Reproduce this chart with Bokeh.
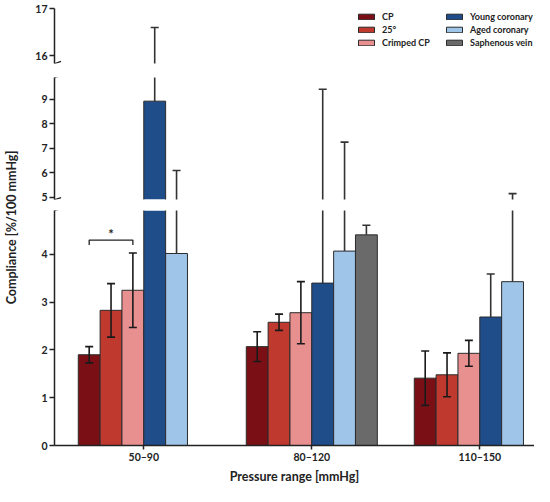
import numpy as np
from bokeh.plotting import figure
from bokeh.models import (ColumnDataSource, Range1d, FixedTicker, Legend, LegendItem, Arrow,
                          CDSView, BooleanFilter)
from bokeh.layouts import row, column
from bokeh.transform import dodge
from bokeh.core.properties import value
from bokeh.embed import file_html
from bokeh.resources import INLINE

nan = float("nan")

# ---------------- data ----------------
categories = ["50–90", "80–120", "110–150"]
series_names = ["CP", "25°", "Crimped CP", "Young coronary", "Aged coronary", "Saphenous vein"]
series_colors = ["#7a1016", "#c0392f", "#e89090", "#1e4d8a", "#9fc5e8", "#6a6a6a"]

cp_mean = [1.90, 2.07, 1.41]
cp_sd = [0.17, 0.31, 0.57]
deg25_mean = [2.83, 2.58, 1.48]
deg25_sd = [0.56, 0.17, 0.46]
crimped_mean = [3.25, 2.78, 1.93]
crimped_sd = [0.78, 0.65, 0.27]
young_mean = [8.93, 3.40, 2.69]
young_sd = [7.67, 6.02, 0.90]
aged_mean = [4.02, 4.07, 3.43]
aged_sd = [2.07, 3.18, 1.71]
saph_mean = [nan, 4.41, nan]
saph_sd = [nan, 0.20, nan]

means = [cp_mean, deg25_mean, crimped_mean, young_mean, aged_mean, saph_mean]
sds = [cp_sd, deg25_sd, crimped_sd, young_sd, aged_sd, saph_sd]
two_sided = [True, True, True, False, False, False]

top_ticks = [16, 17]
mid_ticks = [5, 6, 7, 8, 9]
low_ticks = [0, 1, 2, 3, 4]

x_label = "Pressure range [mmHg]"
y_label = "Compliance [%/100 mmHg]"

# ---------------- styling ----------------
FONT = "Lato"
INK = "#222222"
EDGE = "#2b2b2b"
BAR_W = 0.13
offsets = [(i - 2.5) * BAR_W for i in range(6)]
xpos = list(range(1, len(categories) + 1))

x_range = Range1d(0.4685, 3.3256)

sources = []
for i in range(6):
    m = np.array(means[i], dtype=float)
    s = np.array(sds[i], dtype=float)
    lower = m - s if two_sided[i] else m
    sources.append(ColumnDataSource(dict(x=xpos, mean=m, upper=m + s, lower=lower)))


def style_axis(ax):
    ax.minor_tick_line_color = None
    ax.major_tick_in = 0
    ax.major_tick_out = 5
    ax.major_tick_line_width = 1.5
    ax.axis_line_width = 1.5
    ax.axis_line_color = INK
    ax.major_tick_line_color = INK
    ax.major_label_text_font = FONT
    ax.major_label_text_font_style = "bold"
    ax.major_label_text_font_size = "10.5px"
    ax.major_label_text_color = INK


def view_of(mask):
    return CDSView(filter=BooleanFilter(booleans=[bool(b) for b in mask]))


def make_fig(h, y0, y1, ticks, bt, bb, xaxis):
    p = figure(width=514, height=h, x_range=x_range, y_range=Range1d(y0, y1),
               output_backend="svg", toolbar_location=None, title=None,
               x_axis_location="below" if xaxis else None,
               min_border_left=34, min_border_right=0,
               min_border_top=bt, min_border_bottom=bb)
    p.grid.visible = False
    p.outline_line_color = None
    ax = p.yaxis[0]
    ax.ticker = FixedTicker(ticks=ticks)
    style_axis(ax)
    ax.major_label_standoff = 2
    if xaxis:
        xa = p.xaxis[0]
        xa.ticker = FixedTicker(ticks=xpos)
        xa.major_label_overrides = {x: c for x, c in zip(xpos, categories)}
        style_axis(xa)
        xa.major_tick_out = 4
        xa.major_label_standoff = 1
        xa.axis_label = x_label
        xa.axis_label_text_font = FONT
        xa.axis_label_text_font_style = "bold"
        xa.axis_label_text_font_size = "12.5px"
        xa.axis_label_text_color = INK
        xa.axis_label_standoff = 3

    for i in range(6):
        src = sources[i]
        m = np.array(src.data["mean"])
        xc = dodge("x", offsets[i], range=p.x_range)
        xl = dodge("x", offsets[i] - BAR_W / 2, range=p.x_range)
        xr = dodge("x", offsets[i] + BAR_W / 2, range=p.x_range)
        # bar fill
        p.vbar(x=xc, top="mean", bottom=0, width=BAR_W, fill_color=series_colors[i],
               line_color=None, source=src, view=view_of(m > y0))
        # bar outline (sides + top)
        p.segment(x0=xl, y0=0, x1=xl, y1="mean", line_color=EDGE, line_width=1,
                  source=src, view=view_of(m > y0))
        p.segment(x0=xr, y0=0, x1=xr, y1="mean", line_color=EDGE, line_width=1,
                  source=src, view=view_of(m > y0))
        p.segment(x0=xl, y0="mean", x1=xr, y1="mean", line_color=EDGE, line_width=1,
                  source=src, view=view_of((m > y0) & (m < y1)))
    for i in range(6):
        src = sources[i]
        up = np.array(src.data["upper"])
        lo = np.array(src.data["lower"])
        xc = dodge("x", offsets[i], range=p.x_range)
        col = "#1a1a1a" if two_sided[i] else "#333333"
        p.segment(x0=xc, y0="lower", x1=xc, y1="upper", line_color=col, line_width=1.6,
                  source=src, view=view_of((up > y0) & (lo < y1)))
        p.scatter(x=xc, y="upper", marker="dash", size=8, line_width=1.6, line_color=col,
                  source=src, view=view_of((up > y0) & (up < y1)))
        if two_sided[i]:
            p.scatter(x=xc, y="lower", marker="dash", size=8, line_width=1.6, line_color=col,
                      source=src, view=view_of((lo > y0) & (lo < y1)))
    return p


def break_mark(p, y, dy):
    x0 = x_range.start
    p.add_layout(Arrow(start=None, end=None, x_start=x0 - 0.033, y_start=y - dy,
                       x_end=x0 + 0.039, y_end=y + dy, line_width=1.3, line_color=INK))


top = make_fig(70, 15.84, 17, top_ticks, 8, 7, False)
mid = make_fig(134, 4.9, 9.9, mid_ticks, 7, 5, False)
low = make_fig(282, 0, 4.92, low_ticks, 6, 38, True)

break_mark(top, 15.84, 0.045)
break_mark(mid, 9.9, 0.08)
break_mark(mid, 4.9, 0.08)
break_mark(low, 4.92, 0.04)

# significance bracket in first group (CP vs Crimped CP)
xa_ = xpos[0] + offsets[0]
xb_ = xpos[0] + offsets[2]
low.line(x=[xa_, xa_, xb_, xb_], y=[4.2, 4.3, 4.3, 4.2], line_color=INK, line_width=1.3)
low.text(x=[(xa_ + xb_) / 2], y=[4.43], text=["*"], text_align="center", text_baseline="middle",
         text_font=value(FONT), text_font_size="13px", text_font_style="bold", text_color=INK)

# legend-only renderers (a single undrawable NaN row) in the top panel
legend_src = ColumnDataSource(dict(x=[nan], top=[nan]))
legend_rs = [top.vbar(x="x", top="top", bottom=0, width=BAR_W, fill_color=series_colors[i],
                      line_color=EDGE, line_width=1, source=legend_src) for i in range(6)]

for idx, loc in [([0, 1, 2], (302, 14)), ([3, 4, 5], (390, 14))]:
    leg = Legend(items=[LegendItem(label=series_names[i], renderers=[legend_rs[i]]) for i in idx],
                 location=loc)
    leg.border_line_color = None
    leg.background_fill_alpha = 0
    leg.padding = 0
    leg.margin = 0
    leg.spacing = 0
    leg.glyph_width = 20
    leg.glyph_height = 7
    leg.label_height = 13
    leg.label_standoff = 6
    leg.label_text_font = FONT
    leg.label_text_font_size = "9px"
    leg.label_text_font_style = "bold"
    leg.label_text_color = INK
    leg.label_text_baseline = "middle"
    top.add_layout(leg)

# y label panel
lab = figure(width=20, height=486, x_range=Range1d(0, 20), y_range=Range1d(0, 486),
             output_backend="svg", toolbar_location=None, title=None,
             x_axis_location=None, y_axis_location=None, min_border=0)
lab.grid.visible = False
lab.outline_line_color = None
lab.text(x=[10.5], y=[259], text=[y_label], angle=np.pi / 2, text_align="center",
         text_baseline="middle", text_font=value(FONT), text_font_size="12.5px",
         text_font_style="bold", text_color=INK)

layout = row(lab, column(top, mid, low))

open("out.html", "w").write(file_html(layout, INLINE))
